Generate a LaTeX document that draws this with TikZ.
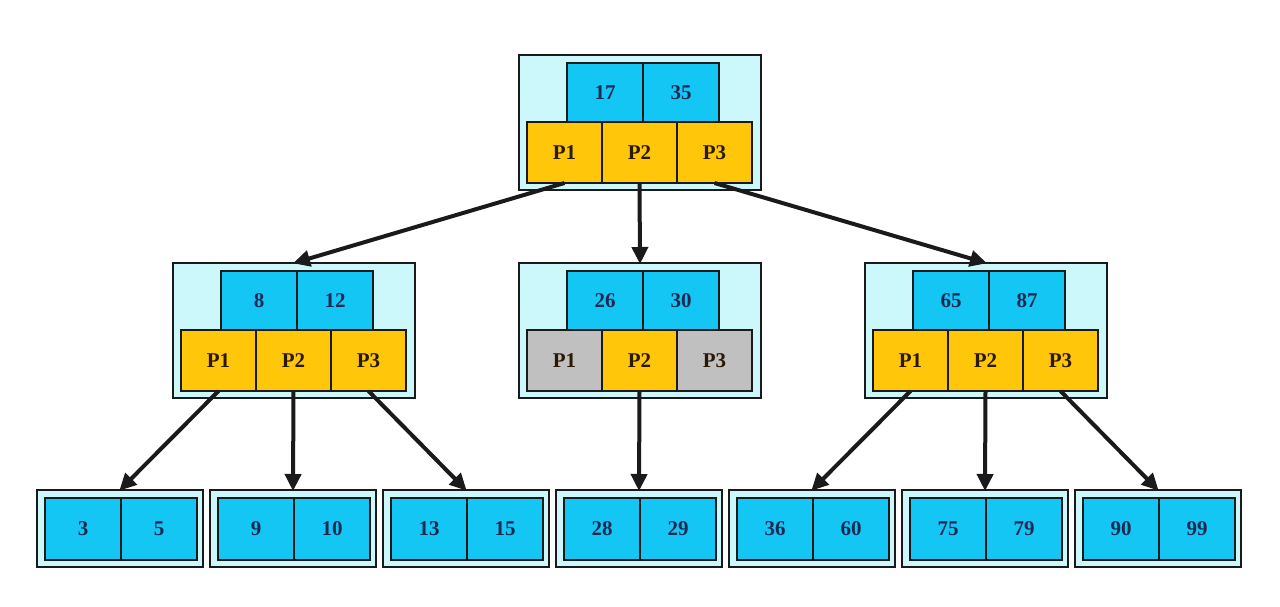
\documentclass[tikz,border=0pt]{standalone}
\usepackage{fontspec}
\setmainfont{Liberation Serif}
\usetikzlibrary{arrows.meta}
\definecolor{bgcyan}{HTML}{CCF8FC}
\definecolor{keyblue}{HTML}{14C6F4}
\definecolor{ptrgold}{HTML}{FFC60A}
\definecolor{ptrgray}{HTML}{C0C0C0}
\definecolor{numcol}{HTML}{1A2A55}
\definecolor{pcol}{HTML}{2A1A05}
\definecolor{edge}{HTML}{1A1A1A}
\tikzset{
  outerbox/.style={draw=edge,line width=1.8pt,fill=bgcyan,anchor=north west,inner sep=0pt,outer sep=0pt},
  cell/.style={draw=edge,line width=1.5pt,anchor=north west,inner sep=0pt,outer sep=0pt,
    font=\fontsize{21}{21}\selectfont\bfseries},
  keycell/.style={cell,fill=keyblue,text=numcol,minimum width=76pt,minimum height=59pt},
  ptrcell/.style={cell,fill=#1,text=pcol,minimum width=75pt,minimum height=61pt},
  leafcell/.style={cell,fill=keyblue,text=numcol,minimum width=76pt,minimum height=62pt},
  link/.style={draw=edge,line width=4pt,-{Triangle[length=17pt,width=16pt]},shorten >=-1pt}
}
% internal node: name, x0, y0, key1, key2, col1, col2, col3
\newcommand\mkinner[8]{%
  \node[outerbox,minimum width=242pt,minimum height=135pt] (#1) at (#2,#3) {};
  \node[keycell] (#1k1) at (#2+48,#3+8) {#4};
  \node[keycell] (#1k2) at (#2+124,#3+8) {#5};
  \node[ptrcell=#6] (#1p1) at (#2+8,#3+67) {P1};
  \node[ptrcell=#7] (#1p2) at (#2+83,#3+67) {P2};
  \node[ptrcell=#8] (#1p3) at (#2+158,#3+67) {P3};
}
% leaf node: name, x0, key1, key2
\newcommand\mkleaf[4]{%
  \node[outerbox,minimum width=166pt,minimum height=77pt] (#1) at (#2,490) {};
  \node[leafcell] (#1k1) at (#2+8,498) {#3};
  \node[leafcell] (#1k2) at (#2+84,498) {#4};
}
\begin{document}
\begin{tikzpicture}[x=1pt,y=-1pt]
\useasboundingbox[fill=white] (0,0) rectangle (1280,606);
\mkinner{root}{519}{55}{17}{35}{ptrgold}{ptrgold}{ptrgold}
\mkinner{left}{173}{263}{8}{12}{ptrgold}{ptrgold}{ptrgold}
\mkinner{mid}{519}{263}{26}{30}{ptrgray}{ptrgold}{ptrgray}
\mkinner{right}{865}{263}{65}{87}{ptrgold}{ptrgold}{ptrgold}
\mkleaf{la}{37}{3}{5}
\mkleaf{lb}{210}{9}{10}
\mkleaf{lc}{383}{13}{15}
\mkleaf{ld}{556}{28}{29}
\mkleaf{le}{729}{36}{60}
\mkleaf{lf}{902}{75}{79}
\mkleaf{lg}{1075}{90}{99}
\draw[link] (rootp1.south) -- (left.north);
\draw[link] (rootp2.south) -- (mid.north);
\draw[link] (rootp3.south) -- (right.north);
\draw[link] (leftp1.south) -- (la.north);
\draw[link] (leftp2.south) -- (lb.north);
\draw[link] (leftp3.south) -- (lc.north);
\draw[link] (midp2.south) -- (ld.north);
\draw[link] (rightp1.south) -- (le.north);
\draw[link] (rightp2.south) -- (lf.north);
\draw[link] (rightp3.south) -- (lg.north);
\end{tikzpicture}
\end{document}
